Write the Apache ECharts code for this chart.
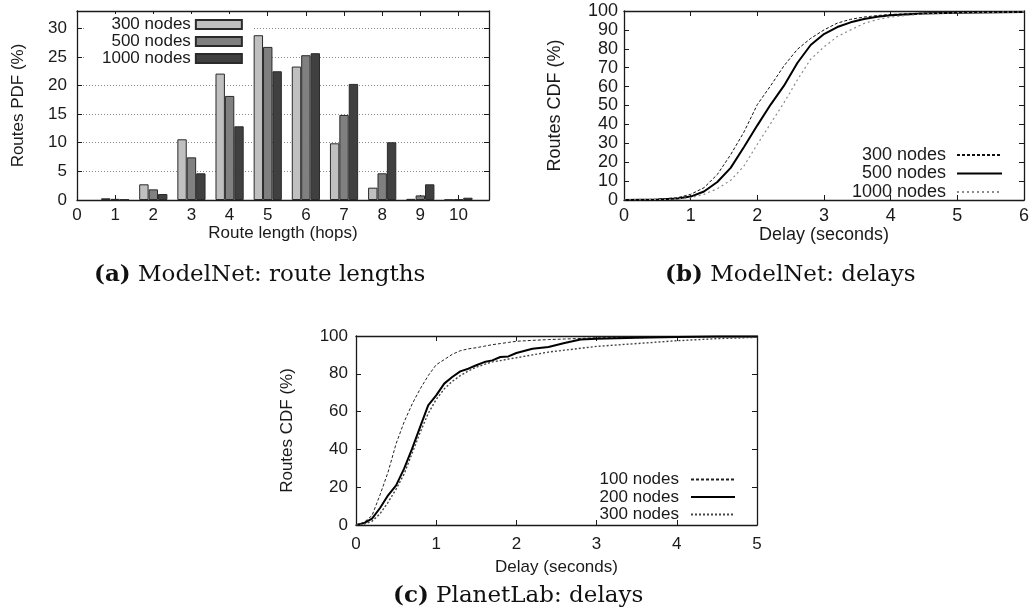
<!DOCTYPE html>
<html><head><meta charset="utf-8">
<script src="https://cdn.jsdelivr.net/npm/echarts@6/dist/echarts.min.js"></script>
<style>html,body{margin:0;padding:0;background:#fff}#c{width:1032px;height:615px}</style>
</head><body><div id="c"></div>
<script>
// ---- Data ----
const hops = [1, 2, 3, 4, 5, 6, 7, 8, 9, 10];
const pdf300 = [0.3, 2.74, 10.6, 22.07, 28.77, 23.3, 9.9, 2.15, 0.2, 0.05];
const pdf500 = [0.2, 1.86, 7.45, 18.17, 26.73, 25.28, 14.85, 4.66, 0.8, 0.1];
const pdf1000 = [0.1, 1.05, 4.66, 12.87, 22.48, 25.63, 20.27, 10.08, 2.74, 0.4];

const delayB = [0, 0.5, 0.8, 1.0, 1.2, 1.4, 1.6, 1.8, 2.0, 2.2, 2.4, 2.6, 2.8, 3.0, 3.2, 3.4, 3.6, 3.8, 4.0, 4.5, 5.0, 6.0];
const cdfB300 = [0, 0.4, 1.2, 3, 6.5, 13.5, 24, 36, 50.5, 60.5, 71, 79.7, 85.5, 90, 93.6, 95.6, 96.8, 97.6, 98.2, 98.9, 99.2, 99.5];
const cdfB500 = [0, 0.3, 0.8, 1.8, 4.5, 9.5, 17, 28, 39.5, 50.5, 60.5, 72.5, 82, 87.8, 91.5, 94, 95.8, 97, 97.8, 98.7, 99.1, 99.5];
const cdfB1000 = [0, 0.2, 0.5, 1.2, 3, 6, 10.4, 18, 29.5, 40.5, 51.5, 63.5, 74.5, 81, 86.5, 90, 93.4, 95.5, 96.8, 98.5, 99.1, 99.5];

const delayC = [0, 0.1, 0.2, 0.3, 0.4, 0.5, 0.6, 0.7, 0.8, 0.9, 1.0, 1.1, 1.2, 1.3, 1.4, 1.5, 1.6, 1.7, 1.8, 1.9, 2.0, 2.2, 2.4, 2.6, 2.8, 3.0, 3.5, 4.0, 4.5, 5.0];
const cdfC100 = [0, 1.4, 5, 16, 28, 43, 54.5, 64, 72, 79, 84.8, 87.5, 90.3, 92.2, 93.2, 93.8, 94.6, 95.4, 96, 96.6, 97.2, 97.7, 98.1, 98.4, 98.7, 99.1, 99.3, 99.5, 99.6, 99.7];
const cdfC200 = [0, 1, 3.4, 9, 15.7, 21, 29.8, 40.4, 51.9, 63.3, 68.6, 74.8, 78.3, 81.3, 82.7, 84.5, 86.2, 87.1, 88.9, 89.2, 91, 93.3, 94.2, 96.3, 98.1, 98.6, 99.1, 99.5, 99.7, 99.8];
const cdfC300 = [0, 0.5, 2, 6, 12, 19, 27, 38, 49, 59, 66.5, 72, 76, 79, 81.5, 83.5, 85, 86.3, 87, 87.8, 88.5, 90, 91.5, 92.5, 93.5, 94.5, 96, 97.5, 98.6, 99.3];

// ---- Helpers ----
const FONT = 'Liberation Sans';
const INK = '#1a1a1a';
const axisLine = { show: true, onZero: false, lineStyle: { color: INK, width: 1.3 } };
const tick = { show: true, inside: true, length: 5, lineStyle: { color: INK, width: 1 } };
const lbl = (margin, fs) => ({ fontFamily: FONT, fontSize: fs, color: INK, margin });
const nameStyle = (fs) => ({ fontFamily: FONT, fontSize: fs, color: INK });

function xPair(grid, min, max, interval, name, gap, margin, fs) {
  return [
    { type: 'value', gridIndex: grid, position: 'bottom', min, max, interval,
      axisLine, axisTick: tick, axisLabel: Object.assign(lbl(margin, fs), { showMaxLabel: max % interval === 0 }),
      splitLine: { show: false }, name, nameLocation: 'middle', nameGap: gap, nameTextStyle: nameStyle(fs) },
    { type: 'value', gridIndex: grid, position: 'top', min, max, interval,
      axisLine, axisTick: tick, axisLabel: { show: false }, splitLine: { show: false } }
  ];
}
function yPair(grid, min, max, interval, name, gap, margin, split, fs) {
  return [
    { type: 'value', gridIndex: grid, position: 'left', min, max, interval,
      axisLine, axisTick: tick, axisLabel: Object.assign(lbl(margin, fs), { showMaxLabel: max % interval === 0 }),
      splitLine: split ? { show: true, lineStyle: { color: '#8a8a8a', type: [1, 2], width: 1 } } : { show: false },
      name, nameLocation: 'middle', nameGap: gap, nameTextStyle: nameStyle(fs) },
    { type: 'value', gridIndex: grid, position: 'right', min, max, interval,
      axisLine, axisTick: tick, axisLabel: { show: false }, splitLine: { show: false } }
  ];
}
const pairs = (xs, ys) => xs.map((x, i) => [x, ys[i]]);
const strip = (n) => n.replace(/ \([abc]\)$/, '');

const barSeries = (name, vals, color) => ({
  type: 'bar', name, xAxisIndex: 0, yAxisIndex: 0,
  data: pairs(hops, vals), barWidth: 9.4, barGap: '0%',
  itemStyle: { color, borderColor: '#2a2a2a', borderWidth: 1 }, silent: true
});
const lineSeries = (name, xi, yi, xs, ys, style) => ({
  type: 'line', name, xAxisIndex: xi, yAxisIndex: yi, data: pairs(xs, ys),
  symbol: 'none', showSymbol: false, smooth: false, silent: true,
  lineStyle: style, itemStyle: { color: style.color }
});

const legendText = (fs) => ({ fontFamily: FONT, fontSize: fs, color: INK, lineHeight: 17 });
const capRich = { b: { fontFamily: 'DejaVu Serif', fontWeight: 'bold', fontSize: 23, fill: '#111' } };

const option = {
  animation: false,
  backgroundColor: '#fff',
  grid: [
    { left: 77, top: 11, width: 412, height: 189 },
    { left: 624, top: 11, width: 400, height: 189 },
    { left: 356, top: 336, width: 401, height: 189 }
  ],
  xAxis: [
    ...xPair(0, 0, 10.8, 1, 'Route length (hops)', 24, 7, 17),
    ...xPair(1, 0, 6, 1, 'Delay (seconds)', 24, 7, 18),
    ...xPair(2, 0, 5, 1, 'Delay (seconds)', 34, 11, 17)
  ],
  yAxis: [
    ...yPair(0, 0, 33, 5, 'Routes PDF (%)', 50, 10, true, 17),
    ...yPair(1, 0, 100, 10, 'Routes CDF (%)', 60, 6, false, 18),
    ...yPair(2, 0, 100, 20, 'Routes CDF (%)', 60, 8, false, 17)
  ],
  legend: [
    { orient: 'vertical', align: 'right', left: 85, top: 14, padding: [2, 10, 4, 17],
      backgroundColor: '#fff', itemWidth: 46, itemHeight: 9, itemGap: 0, icon: 'rect',
      selectedMode: false, textStyle: legendText(17), formatter: strip,
      data: ['300 nodes (a)', '500 nodes (a)', '1000 nodes (a)'] },
    { orient: 'vertical', align: 'right', right: 29, top: 146, padding: 0,
      itemWidth: 45, itemHeight: 10, itemGap: 0.5, selectedMode: false,
      itemStyle: { opacity: 0 },
      textStyle: Object.assign(legendText(18), { padding: [0, 6, 0, 0] }), formatter: strip,
      data: ['300 nodes (b)', '500 nodes (b)', '1000 nodes (b)'] },
    { orient: 'vertical', align: 'right', right: 296, top: 471, padding: 0,
      itemWidth: 44, itemHeight: 10, itemGap: 0.5, selectedMode: false,
      itemStyle: { opacity: 0 },
      textStyle: Object.assign(legendText(17), { padding: [0, 7, 0, 0] }), formatter: strip,
      data: ['100 nodes (c)', '200 nodes (c)', '300 nodes (c)'] }
  ],
  series: [
    barSeries('300 nodes (a)', pdf300, '#c0c0c0'),
    barSeries('500 nodes (a)', pdf500, '#808080'),
    barSeries('1000 nodes (a)', pdf1000, '#404040'),
    lineSeries('300 nodes (b)', 2, 2, delayB, cdfB300, { color: '#111', width: 1, type: [3, 2] }),
    lineSeries('500 nodes (b)', 2, 2, delayB, cdfB500, { color: '#000', width: 2, type: 'solid' }),
    lineSeries('1000 nodes (b)', 2, 2, delayB, cdfB1000, { color: '#8a8a8a', width: 1.2, type: [2, 3] }),
    lineSeries('100 nodes (c)', 4, 4, delayC, cdfC100, { color: '#222', width: 1, type: [3, 2] }),
    lineSeries('200 nodes (c)', 4, 4, delayC, cdfC200, { color: '#000', width: 2, type: 'solid' }),
    lineSeries('300 nodes (c)', 4, 4, delayC, cdfC300, { color: '#444', width: 1.4, type: [2, 2] })
  ],
  graphic: [
    { type: 'text', left: 94, top: 264, style: { text: '{b|(a)} ModelNet: route lengths', rich: capRich,
      fontFamily: 'DejaVu Serif', fontSize: 23, fill: '#111' } },
    { type: 'text', left: 665, top: 264, style: { text: '{b|(b)} ModelNet: delays', rich: capRich,
      fontFamily: 'DejaVu Serif', fontSize: 23, fill: '#111' } },
    { type: 'text', left: 393, top: 585, style: { text: '{b|(c)} PlanetLab: delays', rich: capRich,
      fontFamily: 'DejaVu Serif', fontSize: 23, fill: '#111' } }
  ]
};
const chart = echarts.init(document.getElementById('c'), null, { renderer: 'canvas' });
chart.setOption(option);
</script></body></html>
